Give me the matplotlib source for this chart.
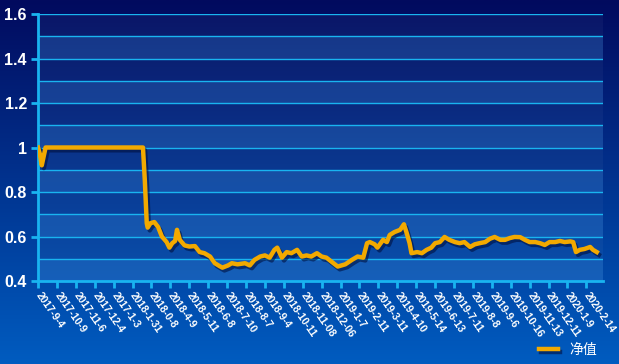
import numpy as np
import matplotlib
matplotlib.use("Agg")
import matplotlib.pyplot as plt
import matplotlib.patheffects as pe
from matplotlib.ticker import FormatStrFormatter, MultipleLocator

# trading-day index and net value
day = [0, 2, 4, 6, 8, 111, 113, 115, 116, 119, 123, 127, 131, 134, 136, 139,
       142, 145, 147, 149, 150, 155, 160, 166, 171, 176, 182, 187, 192, 195,
       201, 205, 211, 219, 224, 229, 235, 240, 245, 250, 253, 258, 263, 268,
       274, 279, 284, 289, 295, 300, 305, 311, 317, 325, 332, 338, 344, 348,
       351, 356, 359, 365, 369, 372, 377, 383, 387, 390, 393, 395, 401, 406,
       411, 416, 420, 425, 430, 435, 441, 446, 451, 457, 462, 467, 473, 478,
       483, 489, 494, 499, 504, 510, 515, 520, 526, 531, 536, 541, 547, 552,
       557, 563, 566, 569, 573, 578, 584, 587, 591]
nav = [1.00, 0.97, 0.92, 0.96, 1.00, 1.00, 0.85, 0.66, 0.64, 0.66, 0.665,
       0.643, 0.60, 0.585, 0.575, 0.55, 0.57, 0.58, 0.63, 0.60, 0.585, 0.56,
       0.555, 0.557, 0.53, 0.525, 0.51, 0.48, 0.467, 0.46, 0.47, 0.48, 0.475,
       0.48, 0.47, 0.495, 0.51, 0.515, 0.505, 0.54, 0.55, 0.505, 0.53, 0.525,
       0.54, 0.51, 0.515, 0.51, 0.525, 0.51, 0.505, 0.485, 0.465, 0.475,
       0.495, 0.51, 0.505, 0.57, 0.575, 0.565, 0.55, 0.585, 0.575, 0.607,
       0.62, 0.63, 0.655, 0.615, 0.57, 0.525, 0.53, 0.525, 0.54, 0.55, 0.57,
       0.575, 0.598, 0.585, 0.575, 0.57, 0.575, 0.553, 0.565, 0.57, 0.575,
       0.59, 0.598, 0.585, 0.585, 0.593, 0.598, 0.597, 0.585, 0.575, 0.575,
       0.57, 0.562, 0.575, 0.575, 0.58, 0.575, 0.578, 0.575, 0.53, 0.54,
       0.544, 0.553, 0.54, 0.53]

tick_labels = ["2017-9-4", "2017-10-9", "2017-11-6", "2017-12-4", "2017-1-3",
               "2018-1-31", "2018-0-8", "2018-4-9", "2018-5-11", "2018-6-8",
               "2018-7-10", "2018-8-7", "2018-9-4", "2018-10-11", "2018-11-08",
               "2018-12-06", "2019-1-7", "2019-2-11", "2019-3-11", "2019-4-10",
               "2019-5-14", "2019-6-13", "2019-7-11", "2019-8-8", "2019-9-6",
               "2019-10-16", "2019-11-13", "2019-12-11", "2020-1-9", "2020-2-14"]
tick_days = [20 * i for i in range(len(tick_labels))]

cyan = "#19b4f0"
orange = "#f2a900"

fig = plt.figure(figsize=(6.19, 3.64), dpi=100)

# background gradient
bg = fig.add_axes([0, 0, 1, 1], zorder=-10)
top = np.array([2, 10, 94]) / 255
bot = np.array([0, 92, 192]) / 255
t = np.linspace(0, 1, 256)[:, None, None]
grad = top * (1 - t) + bot * t
bg.imshow(np.repeat(grad, 2, axis=1), aspect="auto", extent=[0, 1, 0, 1])
bg.set_axis_off()

ax = fig.add_axes([0.0614, 0.228, 0.9128, 0.7335])
ax.patch.set_alpha(0)
ax.set_xlim(0, 597.6)
ax.set_ylim(0.4, 1.6)

ax.axhspan(0.4, 1.6, color="white", alpha=0.04, lw=0, zorder=0)
for k in range(12):
    lo = 0.4 + 0.1 * k
    if k % 2 == 0:
        ax.axhspan(lo, lo + 0.1, color="#3a8ee0", alpha=0.25, lw=0, zorder=0)
    ax.axhline(lo + 0.1, color=cyan, lw=1.0, zorder=1)

ax.plot(day, nav, color=orange, lw=3.2, solid_joinstyle="round",
        label="净值", zorder=3,
        path_effects=[pe.SimpleLineShadow(offset=(1.5, -2), shadow_color="#001040", alpha=0.6),
                      pe.Normal()])

for s in ["top", "right"]:
    ax.spines[s].set_visible(False)
for s in ["left", "bottom"]:
    ax.spines[s].set_color(cyan)
    ax.spines[s].set_linewidth(2)

ax.yaxis.set_major_locator(MultipleLocator(0.2))
ax.yaxis.set_major_formatter(FormatStrFormatter("%g"))
ax.set_xticks(tick_days)
ax.set_xticklabels(tick_labels, rotation=-55, ha="left", va="center",
                   rotation_mode="anchor")
ax.tick_params(axis="both", colors=cyan, width=2, length=5)
ax.tick_params(axis="y", labelcolor="white", labelsize=11.5, pad=3)
ax.tick_params(axis="x", labelcolor="white", labelsize=7.5, pad=4)
for lab in ax.get_yticklabels():
    lab.set_fontweight("bold")
    lab.set_family("Liberation Sans")
for lab in ax.get_xticklabels():
    lab.set_fontweight("bold")
    lab.set_family("Liberation Sans")

leg = fig.legend(loc="lower right", bbox_to_anchor=(0.985, -0.015), frameon=False,
                 handlelength=1.4, prop={"family": ["Noto Sans CJK SC", "DejaVu Sans"], "size": 10})
for txt in leg.get_texts():
    txt.set_color("white")

fig.savefig("out.png", dpi=100)
